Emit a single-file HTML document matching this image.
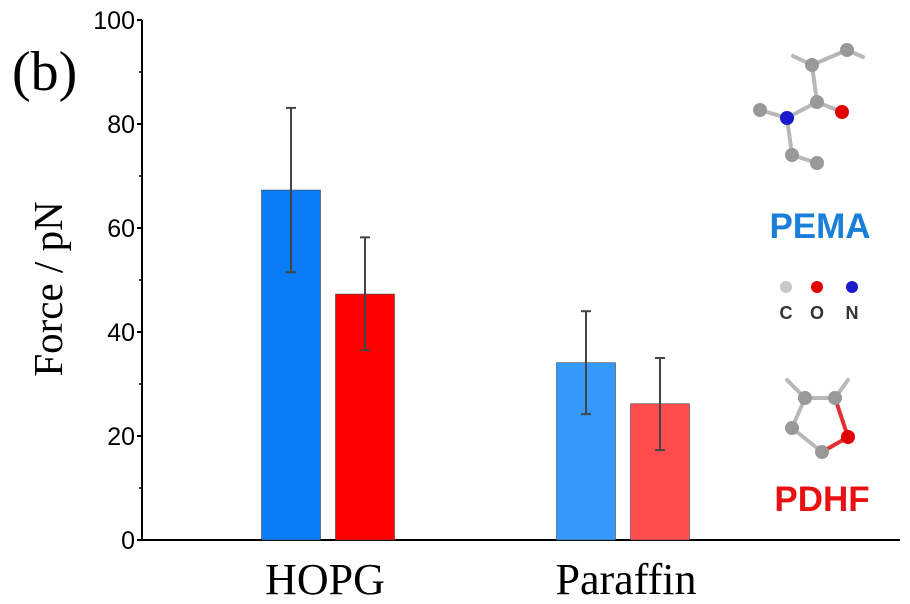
<!DOCTYPE html>
<html><head><meta charset="utf-8"><style>
body{margin:0;background:#fff;}
svg{display:block;font-family:"Liberation Sans",Arial,sans-serif;}
</style></head><body>
<svg id="chart" width="910" height="604" viewBox="0 0 910 604">
<text x="12" y="90" font-family="Liberation Serif,serif" font-size="56" fill="#000">(b)</text>
<text transform="translate(62,289) rotate(-90)" text-anchor="middle" font-family="Liberation Serif,serif" font-size="41" fill="#000">Force / pN</text>
<g id="axes"></g>
<g id="bars"></g>
<g id="mol">
 <g stroke="#b8b8b8" stroke-width="4" stroke-linecap="round">
  <line x1="793" y1="56" x2="812" y2="65"/><line x1="812" y1="65" x2="847" y2="50"/><line x1="847" y1="50" x2="863" y2="57"/>
  <line x1="812" y1="65" x2="817" y2="102"/><line x1="817" y1="102" x2="842" y2="112"/>
  <line x1="817" y1="102" x2="787" y2="118"/><line x1="787" y1="118" x2="760" y2="110"/>
  <line x1="787" y1="118" x2="792" y2="155"/><line x1="792" y1="155" x2="817" y2="163"/>
  <line x1="787" y1="380" x2="805" y2="398"/><line x1="805" y1="398" x2="835" y2="398"/><line x1="835" y1="398" x2="848" y2="380"/>
  <line x1="805" y1="398" x2="792" y2="428"/><line x1="792" y1="428" x2="822" y2="452"/>
  <line x1="822" y1="452" x2="848" y2="437" stroke="#e03030"/><line x1="835" y1="398" x2="848" y2="437" stroke="#e03030"/>
 </g>
 <g fill="#999">
  <circle cx="812" cy="65" r="7"/><circle cx="847" cy="50" r="7"/><circle cx="817" cy="102" r="7"/>
  <circle cx="760" cy="110" r="7"/><circle cx="792" cy="155" r="7"/><circle cx="817" cy="163" r="7"/>
  <circle cx="805" cy="398" r="7"/><circle cx="835" cy="398" r="7"/><circle cx="792" cy="428" r="7"/><circle cx="822" cy="452" r="7"/>
  <circle cx="786" cy="287" r="6" fill="#c8c8c8"/>
 </g>
 <circle cx="842" cy="112" r="7" fill="#e00000"/><circle cx="787" cy="118" r="7" fill="#1a1acc"/>
 <circle cx="848" cy="437" r="7" fill="#e00000"/>
 <circle cx="817" cy="287" r="6" fill="#e00000"/><circle cx="852" cy="287" r="6" fill="#1a1acc"/>
 <g font-size="18" font-weight="bold" fill="#333" text-anchor="middle">
  <text x="786" y="319">C</text><text x="817" y="319">O</text><text x="852" y="319">N</text>
 </g>
 <text x="820" y="238" text-anchor="middle" font-size="35" font-weight="bold" fill="#1a7fd6">PEMA</text>
 <text x="822" y="511" text-anchor="middle" font-size="35" font-weight="bold" fill="#e81010">PDHF</text>
</g>
</svg>
<script>
const categories=["HOPG","Paraffin"];
const pemaValues=[67.3,34.1];
const pdhfValues=[47.3,26.2];
const pemaErrLow=[51.5,24.2];
const pemaErrHigh=[83.1,44.0];
const pdhfErrLow=[36.5,17.3];
const pdhfErrHigh=[58.2,35.0];
const yTicks=[0,20,40,60,80,100];
const NS="http://www.w3.org/2000/svg";
const y0=540,yTop=20,axX=142,axEnd=900;
function y(v){return y0-(v/100)*(y0-yTop);}
const catCenter=[325,626];
function mk(tag,attrs,parent){const e=document.createElementNS(NS,tag);for(const k in attrs)e.setAttribute(k,attrs[k]);parent.appendChild(e);return e;}
const axes=document.getElementById('axes'),bars=document.getElementById('bars');
let e=mk('line',{x1:axX,y1:yTop,x2:axX,y2:y0,stroke:'#000','stroke-width':2},axes);


e=mk('line',{x1:axX-1,y1:y0,x2:axEnd,y2:y0,stroke:'#000','stroke-width':2},axes);


yTicks.forEach(t=>{
 mk('line',{x1:axX-5,y1:y(t),x2:axX,y2:y(t),stroke:'#000','stroke-width':2},axes);
 if(t<100)mk('line',{x1:axX-3,y1:y(t+10),x2:axX,y2:y(t+10),stroke:'#000','stroke-width':1.5},axes);
 const tx=mk('text',{x:axX-7,y:y(t)+9,'text-anchor':'end','font-size':25,fill:'#000'},axes);
 tx.textContent=t;
 
 
});
categories.forEach((c,i)=>{
 const tx=mk('text',{x:catCenter[i],y:594,'text-anchor':'middle','font-family':'Liberation Serif,serif','font-size':44,fill:'#000'},axes);
 tx.textContent=c;
 
 
});
const colors=[["#0a7cf5","#ff0000"],["#3399fb","#ff4d4d"]];
function bar(cx,v,lo,hi,col,name){
 const b=mk('rect',{x:cx-29.5,y:y(v),width:59,height:y0-y(v),fill:col,stroke:'#444','stroke-width':0.6},bars);
 
 
 const g=mk('g',{stroke:'#444','stroke-width':2},bars);
 
 
 mk('line',{x1:cx,y1:y(hi),x2:cx,y2:y(lo)},g);
 mk('line',{x1:cx-5,y1:y(hi),x2:cx+5,y2:y(hi)},g);
 mk('line',{x1:cx-5,y1:y(lo),x2:cx+5,y2:y(lo)},g);
}
const barCenters=[[291,365],[586,660]];
categories.forEach((c,i)=>{
 bar(barCenters[i][0],pemaValues[i],pemaErrLow[i],pemaErrHigh[i],colors[i][0],'bar-'+c.toLowerCase()+'-pema');
 bar(barCenters[i][1],pdhfValues[i],pdhfErrLow[i],pdhfErrHigh[i],colors[i][1],'bar-'+c.toLowerCase()+'-pdhf');
});
</script>
</body></html>
